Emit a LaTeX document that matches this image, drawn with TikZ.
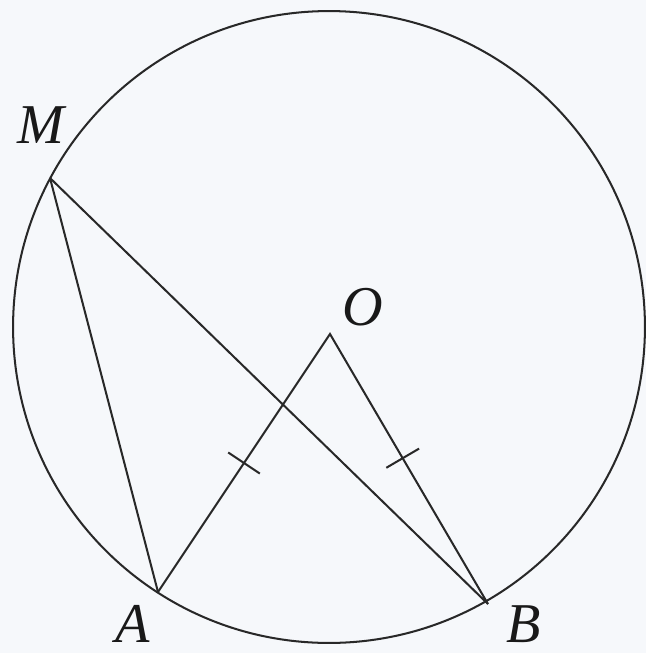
\documentclass[tikz,border=0pt]{standalone}
\usepackage{fontspec}
\setmainfont{Liberation Serif}
\usetikzlibrary{calc}
\definecolor{bg}{RGB}{246,248,251}
\definecolor{ln}{RGB}{40,40,40}
\begin{document}
\begin{tikzpicture}[x=0.02cm,y=-0.02cm,
  geo/.style={draw=ln,line width=1.15pt},
  lbl/.style={font=\fontsize{32}{35}\selectfont\itshape,inner sep=0pt,text=black!90}]
\fill[bg] (0,0) rectangle (646,653);
\useasboundingbox (0,0) rectangle (646,653);
\coordinate (C) at (329,327);
\coordinate (M) at (50,178);
\coordinate (A) at (158,592);
\coordinate (B) at (488,604);
\coordinate (O) at (330,334);
\draw[geo] (C) circle (6.32cm);
\draw[geo] (M) -- (A);
\draw[geo] (M) -- (B);
\draw[geo,line join=miter] (A) -- (O) -- (B);
\path (O) -- (A) coordinate[pos=0.5] (t1);
\path (O) -- (B) coordinate[pos=0.46] (t2);
\draw[geo] ($(t1)!0.38cm!90:(A)$) -- ($(t1)!0.38cm!-90:(A)$);
\draw[geo] ($(t2)!0.38cm!90:(B)$) -- ($(t2)!0.38cm!-90:(B)$);
\node[lbl] (lM) at (41,125) {M};
\node[lbl] (lO) at (363,307) {O};
\node[lbl] (lA) at (133,624) {A};
\node[lbl] (lB) at (524,624) {B};
\end{tikzpicture}
\end{document}
